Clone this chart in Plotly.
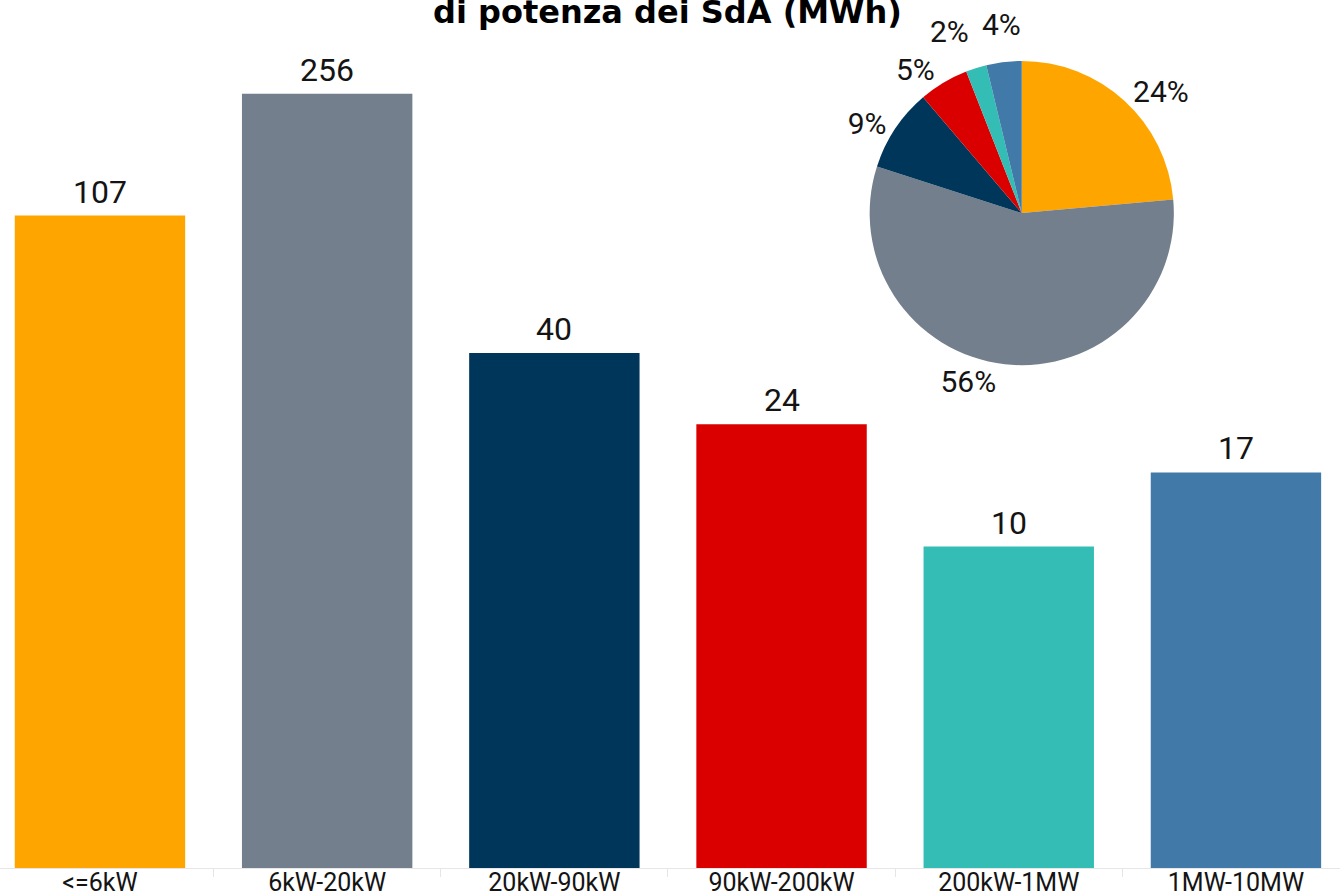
import math
import plotly.graph_objects as go

categories = ["<=6kW", "6kW-20kW", "20kW-90kW", "90kW-200kW", "200kW-1MW", "1MW-10MW"]
values = [107, 256, 40, 24, 10, 17]
colors = ["#FFA500", "#737F8C", "#003659", "#DA0000", "#33BDB5", "#417AA8"]
title_text = "di potenza dei SdA (MWh)"

FONT = "Roboto"
TXT = "#141414"
W, H = 1340, 896
MB = 28
PIE_X = [0.649, 0.876]
PIE_Y = [0.579, 0.930]

fig = go.Figure()
fig.add_trace(go.Bar(
    x=categories, y=values, marker=dict(color=colors, line=dict(width=0)),
    showlegend=False, hoverinfo="x+y",
))
for c, v in zip(categories, values):
    fig.add_annotation(x=c, y=math.log10(v), xref="x", yref="y", text=str(v), showarrow=False,
                       yanchor="bottom", yshift=3, font=dict(family=FONT, size=32, color=TXT))

# very small slices get their labels placed just outside the rim (from the data) to avoid leader lines
total = sum(values)
small = [v / total < 0.045 for v in values]
textpos = ["none" if s else "outside" for s in small]

fig.add_trace(go.Pie(
    labels=categories, values=values, marker=dict(colors=colors, line=dict(width=0)),
    sort=False, direction="clockwise", rotation=0,
    textposition=textpos, texttemplate="%{percent:.0%}",
    textfont=dict(family=FONT, size=30, color=TXT),
    domain=dict(x=PIE_X, y=PIE_Y),
    showlegend=False,
))

plot_h = H - MB
cx = (PIE_X[0] + PIE_X[1]) / 2
cy = (PIE_Y[0] + PIE_Y[1]) / 2
r_px = min((PIE_X[1] - PIE_X[0]) * W, (PIE_Y[1] - PIE_Y[0]) * plot_h) / 2
cum = 0.0
for v, s in zip(values, small):
    frac = v / total
    mid = 2 * math.pi * (cum + frac / 2)
    cum += frac
    if not s:
        continue
    d = r_px * 1.12
    sx, cyy = math.sin(mid), math.cos(mid)
    fig.add_annotation(
        x=cx + d * sx / W, y=cy + d * cyy / plot_h,
        xref="paper", yref="paper", text=f"{frac:.0%}", showarrow=False,
        xanchor="right" if sx < -0.2 else "center", yanchor="bottom",
        font=dict(family=FONT, size=30, color=TXT))

fig.add_annotation(x=0.498, y=1, xref="paper", yref="paper", text="<b>" + title_text + "</b>",
                   showarrow=False, yanchor="top", yshift=9,
                   font=dict(family="DejaVu Sans", size=32, color="#000000"))

fig.update_layout(
    width=W, height=H,
    margin=dict(l=0, r=0, t=0, b=MB, autoexpand=False),
    paper_bgcolor="white", plot_bgcolor="white",
    bargap=0.25,
    font=dict(family=FONT, color=TXT),
    xaxis=dict(range=[-0.44, 5.458], showline=True, linecolor="#E6E6E6", linewidth=1,
               ticks="outside", tickson="boundaries", ticklen=8, tickcolor="#E6E6E6",
               ticklabelstandoff=-8, automargin=False,
               tickfont=dict(family=FONT, size=25, color=TXT), showgrid=False, fixedrange=True),
    yaxis=dict(type="log", range=[0, 2.700], visible=False, showgrid=False, fixedrange=True,
               automargin=False),
)

fig.write_html("out.html", config={"displayModeBar": False},
               post_script="document.body.style.margin='0';")
